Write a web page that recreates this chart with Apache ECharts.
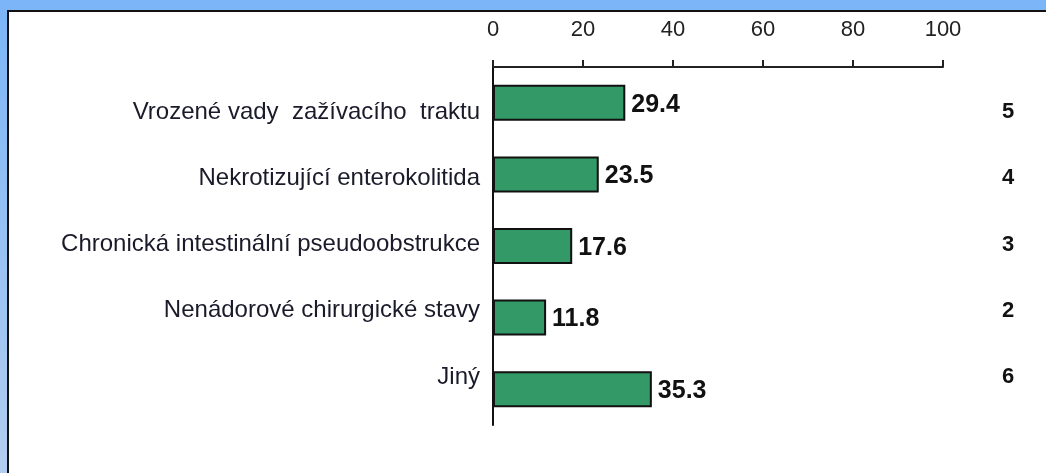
<!DOCTYPE html>
<html>
<head>
<meta charset="utf-8">
<script src="https://cdn.jsdelivr.net/npm/echarts@6/dist/echarts.min.js"></script>
<style>
    html, body { margin: 0; padding: 0; }
    body {
        width: 1046px; height: 473px; overflow: hidden; position: relative;
        background: linear-gradient(#7bb5f8, #b2cdef);
    }
    .panel {
        position: absolute; left: 7px; top: 10px; width: 1100px; height: 520px;
        background: #fff; border: 2px solid #111;
    }
    #chart { position: absolute; left: 0; top: 0; width: 1046px; height: 473px; }
</style>
</head>
<body>
<div class="panel"></div>
<div id="chart"></div>
<script>
    // data
    var categories = ['Vrozené vady  zažívacího  traktu', 'Nekrotizující enterokolitida', 'Chronická intestinální pseudoobstrukce', 'Nenádorové chirurgické stavy', 'Jiný']
    var percent = [29.4, 23.5, 17.6, 11.8, 35.3]
    var counts = [5, 4, 3, 2, 6]
    var xMin = 0
    var xMax = 100
    var xStep = 20

    var font = 'Liberation Sans, Arial, sans-serif'
    var chart = echarts.init(document.getElementById('chart'))

    chart.setOption({
        animation: false,
        grid: [
            {left: 493, top: 67, width: 450, height: 358},
            {left: 493, top: 79, width: 450, height: 331}
        ],
        xAxis: [
            {
                gridIndex: 0,
                type: 'value',
                position: 'top',
                min: xMin,
                max: xMax,
                interval: xStep,
                axisLine: {show: true, lineStyle: {color: '#222', width: 2}},
                axisTick: {show: true, length: 7, lineStyle: {color: '#222', width: 2}},
                splitLine: {show: false},
                axisLabel: {margin: 26, fontSize: 22, color: '#222', fontFamily: font}
            },
            {
                gridIndex: 1,
                type: 'value',
                show: false
            }
        ],
        yAxis: [
            {
                gridIndex: 0,
                type: 'category',
                inverse: true,
                data: categories,
                axisLine: {show: true, lineStyle: {color: '#111', width: 2}},
                axisTick: {show: false},
                axisLabel: {show: false}
            },
            {
                gridIndex: 1,
                type: 'category',
                inverse: true,
                position: 'left',
                data: categories,
                axisLine: {show: false},
                axisTick: {show: false},
                axisLabel: {margin: 13, fontSize: 24, color: '#1a1a2a', fontFamily: font}
            },
            {
                gridIndex: 1,
                type: 'category',
                inverse: true,
                position: 'right',
                data: categories,
                axisLine: {show: false},
                axisTick: {show: false},
                axisLabel: {
                    margin: 59,
                    fontSize: 22,
                    fontWeight: 'bold',
                    color: '#111',
                    fontFamily: font,
                    formatter: function (v, i) { return String(counts[i]) }
                }
            }
        ],
        series: [{
            type: 'bar',
            xAxisIndex: 0,
            yAxisIndex: 0,
            data: percent,
            barWidth: 36,
            itemStyle: {color: '#339966', borderColor: '#111', borderWidth: 2},
            label: {
                show: true,
                position: 'right',
                distance: 6,
                offset: [0, 2],
                fontSize: 25,
                fontWeight: 'bold',
                color: '#111',
                fontFamily: font,
                formatter: function (p) { return p.value.toFixed(1) }
            }
        }]
    })
</script>
</body>
</html>
